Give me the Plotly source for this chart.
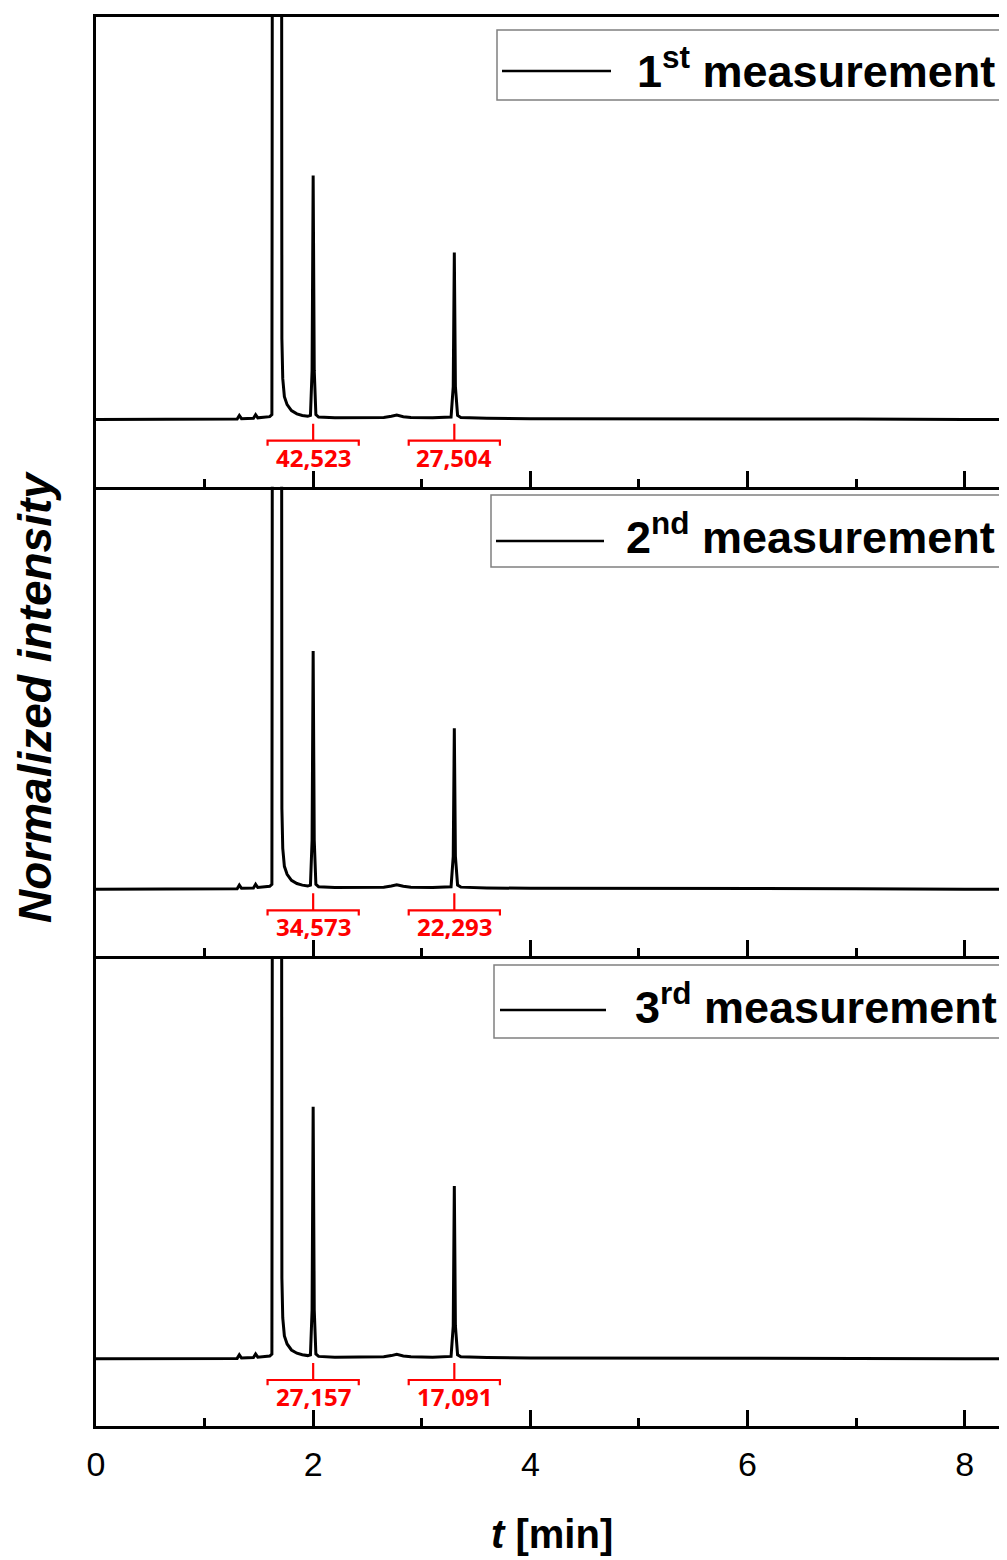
import plotly.graph_objects as go
from plotly.subplots import make_subplots

# ---------------- data ----------------
t_min = [0.00, 0.50, 1.00, 1.20, 1.30, 1.32, 1.34, 1.45, 1.47, 1.49, 1.55, 1.60, 1.62,
         1.63, 1.665, 1.705, 1.712, 1.72, 1.735, 1.76, 1.80, 1.85, 1.90, 1.95,
         1.975, 1.99, 2.00, 2.01, 2.025, 2.05, 2.20, 2.50, 2.65, 2.72, 2.77, 2.83,
         2.90, 3.10, 3.27, 3.29, 3.30, 3.31, 3.33, 3.36, 3.60, 4.00, 5.00, 6.00,
         7.00, 8.00, 8.50]

intensity_1st = [-0.002, -0.002, -0.002, -0.002, -0.001, 0.008, 0.000, 0.001, 0.010, 0.002, 0.003, 0.005, 0.010,
                 3.0, 3.0, 3.0, 0.20, 0.10, 0.055, 0.035, 0.020, 0.012, 0.008, 0.006,
                 0.008, 0.12, 0.608, 0.12, 0.010, 0.004, 0.002, 0.002, 0.003, 0.006, 0.009, 0.005,
                 0.003, 0.002, 0.004, 0.08, 0.415, 0.08, 0.008, 0.003, 0.001, 0.000, 0.000, -0.001,
                 -0.001, -0.002, -0.002]

intensity_2nd = [-0.002, -0.002, -0.002, -0.002, -0.001, 0.008, 0.000, 0.001, 0.010, 0.002, 0.003, 0.005, 0.010,
                 3.0, 3.0, 3.0, 0.20, 0.10, 0.055, 0.035, 0.020, 0.012, 0.008, 0.006,
                 0.008, 0.12, 0.593, 0.12, 0.010, 0.004, 0.002, 0.002, 0.003, 0.006, 0.009, 0.005,
                 0.003, 0.002, 0.004, 0.08, 0.400, 0.08, 0.008, 0.003, 0.001, 0.000, 0.000, -0.001,
                 -0.001, -0.002, -0.002]

intensity_3rd = [-0.002, -0.002, -0.002, -0.002, -0.001, 0.008, 0.000, 0.001, 0.010, 0.002, 0.003, 0.005, 0.010,
                 3.0, 3.0, 3.0, 0.20, 0.10, 0.055, 0.035, 0.020, 0.012, 0.008, 0.006,
                 0.008, 0.12, 0.628, 0.12, 0.010, 0.004, 0.002, 0.002, 0.003, 0.006, 0.009, 0.005,
                 0.003, 0.002, 0.004, 0.08, 0.430, 0.08, 0.008, 0.003, 0.001, 0.000, 0.000, -0.001,
                 -0.001, -0.002, -0.002]

series_names = ["1<sup>st</sup> measurement",
                "2<sup>nd</sup> measurement",
                "3<sup>rd</sup> measurement"]

peak_times = [2.0, 3.3]
peak_areas = [["42,523", "27,504"],
              ["34,573", "22,293"],
              ["27,157", "17,091"]]

x_tick_values = [0, 2, 4, 6, 8]
x_tick_labels = ["0", "2", "4", "6", "8"]

# ---------------- layout helpers ----------------
# the page body has an 8px default margin, so the figure is placed at (8, 8)
OFF = 8
W, H = 1007 - OFF, 1560 - OFF
PLOT_L, PLOT_R, PLOT_T, PLOT_B = 96, 1007, 17, 1426   # target page pixels
ML, MT = PLOT_L - OFF, PLOT_T - OFF
MR = (OFF + W) - PLOT_R
MB = (OFF + H) - PLOT_B
PW, PH = PLOT_R - PLOT_L, PLOT_B - PLOT_T

ARIAL = "Arial, Liberation Sans, sans-serif"


def px_x(px):
    return (px - PLOT_L) / PW


def px_y(py):
    return (PLOT_B - py) / PH


series = [intensity_1st, intensity_2nd, intensity_3rd]

fig = make_subplots(rows=3, cols=1, shared_xaxes=True, vertical_spacing=0)

for i, ys in enumerate(series):
    fig.add_trace(go.Scatter(x=t_min, y=ys, mode="lines",
                             line=dict(color="black", width=3),
                             name=series_names[i], showlegend=False),
                  row=i + 1, col=1)

RED = "#ff0000"
for i in range(3):
    xr = "x" if i == 0 else f"x{i + 1}"
    yr = "y" if i == 0 else f"y{i + 1}"
    for tp, lab in zip(peak_times, peak_areas[i]):
        half = 0.42
        fig.add_shape(type="line", xref=xr, yref=yr, x0=tp, x1=tp, y0=-0.0125, y1=-0.055,
                      line=dict(color=RED, width=2.2))
        fig.add_shape(type="path", xref=xr, yref=yr,
                      path=f"M {tp - half},-0.068 L {tp - half},-0.055 L {tp + half},-0.055 L {tp + half},-0.068",
                      line=dict(color=RED, width=2.2))
        fig.add_annotation(xref=xr, yref=yr, x=tp, y=-0.096, text=f"<b>{lab}</b>",
                           showarrow=False, xanchor="center", yanchor="middle",
                           font=dict(family="Open Sans", size=24, color=RED))

# manual legend boxes (positions in page px of the reference)
legend_boxes = [(497, 30, 1004, 100), (491, 495, 1000, 567), (494, 965, 1003, 1038)]
legend_lines = [(502, 611, 71), (496, 604, 541), (500, 606, 1010)]
legend_text_right = [997, 997, 999]
legend_text_y = [68, 534, 1004]
for i in range(3):
    x0, y0, x1, y1 = legend_boxes[i]
    fig.add_shape(type="rect", xref="paper", yref="paper",
                  x0=px_x(x0), x1=px_x(x1), y0=px_y(y1), y1=px_y(y0),
                  line=dict(color="#808080", width=1.5), fillcolor="white", layer="above")
    lx0, lx1, ly = legend_lines[i]
    fig.add_shape(type="line", xref="paper", yref="paper",
                  x0=px_x(lx0), x1=px_x(lx1), y0=px_y(ly), y1=px_y(ly),
                  line=dict(color="black", width=2.5), layer="above")
    fig.add_annotation(xref="paper", yref="paper", x=px_x(legend_text_right[i]), y=px_y(legend_text_y[i]),
                       text=f"<b>{series_names[i]}</b>", showarrow=False,
                       xanchor="right", yanchor="middle",
                       font=dict(family=ARIAL, size=45, color="black"))

# axis titles
fig.add_annotation(xref="paper", yref="paper", x=px_x(552), y=px_y(1534),
                   text="<b><i>t</i> [min]</b>", showarrow=False,
                   xanchor="center", yanchor="middle",
                   font=dict(family=ARIAL, size=40, color="black"))
fig.add_annotation(xref="paper", yref="paper", x=px_x(35), y=px_y(697),
                   text="<b><i>Normalized intensity</i></b>", showarrow=False, textangle=-90,
                   xanchor="center", yanchor="middle",
                   font=dict(family=ARIAL, size=46, color="black"))

for r in range(1, 4):
    fig.update_xaxes(row=r, col=1, range=[0, 8.39], showline=True, linewidth=3, linecolor="black",
                     mirror=(r == 1), ticks="inside", ticklen=16, tickwidth=2.5, tickcolor="black",
                     tickvals=x_tick_values, ticktext=x_tick_labels,
                     minor=dict(ticks="inside", ticklen=8, tickwidth=2.5, tickcolor="black",
                                tickvals=[1, 3, 5, 7]),
                     showgrid=False, zeroline=False, showticklabels=(r == 3),
                     tickfont=dict(family=ARIAL, size=34, color="black"),
                     ticklabelstandoff=6)
    fig.update_yaxes(row=r, col=1, range=[-0.17, 1.004], showline=True, linewidth=3,
                     linecolor="black", ticks="", showticklabels=False,
                     showgrid=False, zeroline=False)

fig.update_layout(width=W, height=H, margin=dict(l=ML, r=MR, t=MT, b=MB),
                  paper_bgcolor="white", plot_bgcolor="white", showlegend=False)

fig.write_html("out.html")
